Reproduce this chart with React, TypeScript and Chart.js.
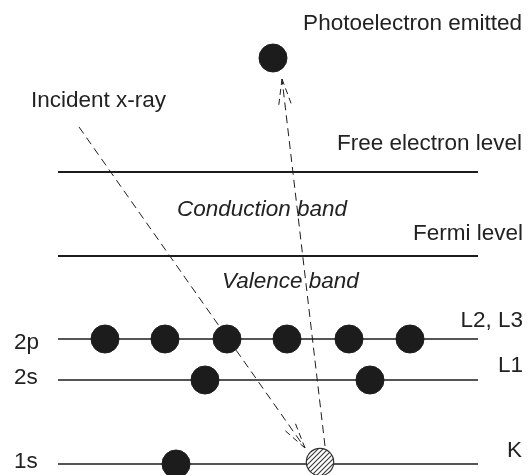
import { useEffect, useRef } from "react";
import { Chart, registerables } from "chart.js";

Chart.register(...registerables);

const W = 528;
const H = 475;

// energy levels (diagram units, y downward)
const levelNames = ["Free electron level", "Fermi level", "2p", "2s", "1s"];
const levelPositions = [172, 256, 339, 380, 464];
const levelSpan = [58, 478];

// electrons on each level (x positions)
const electrons2p = [105, 165, 227, 287, 349, 410];
const electrons2s = [205, 370];
const electrons1s = [176];
const vacancy1s = [320];
const photoelectronX = [273];
const photoelectronY = [58];

// arrows: [x, y] start → end
const incidentPath = [
  [79, 127],
  [305, 448],
];
const emittedPath = [
  [325, 446],
  [282, 79],
];

// texts
const labelTexts = [
  "Photoelectron emitted",
  "Incident x-ray",
  "Free electron level",
  "Conduction band",
  "Fermi level",
  "Valence band",
  "L2, L3",
  "L1",
  "K",
  "2p",
  "2s",
  "1s",
];
const labelX = [522, 31, 522, 177, 523, 222, 523, 523, 522, 14, 14, 14];
const labelY = [30, 107, 150, 216, 240, 288, 327, 372, 457, 349, 384, 468];
const labelAlign = ["right", "left", "right", "left", "right", "left", "right", "right", "right", "left", "left", "left"];
const labelItalic = [false, false, false, true, false, true, false, false, false, false, false, false];

const FONT_FAMILY = "'Liberation Sans', Arial, Helvetica, sans-serif";
const FONT_SIZE = 22.5;
const INK = "#1c1c1c";

function makeHatched(r: number): HTMLCanvasElement {
  const size = Math.ceil(r * 2 + 2);
  const c = document.createElement("canvas");
  c.width = size;
  c.height = size;
  const g = c.getContext("2d")!;
  const cx = size / 2;
  const cy = size / 2;
  g.fillStyle = "#ffffff";
  g.beginPath();
  g.arc(cx, cy, r, 0, Math.PI * 2);
  g.fill();
  g.save();
  g.beginPath();
  g.arc(cx, cy, r, 0, Math.PI * 2);
  g.clip();
  g.strokeStyle = "#333";
  g.lineWidth = 1.1;
  for (let k = -size; k < size * 2; k += 5) {
    g.beginPath();
    g.moveTo(k, size);
    g.lineTo(k + size, 0);
    g.stroke();
  }
  g.restore();
  g.strokeStyle = "#333";
  g.lineWidth = 1.2;
  g.beginPath();
  g.arc(cx, cy, r - 0.3, 0, Math.PI * 2);
  g.stroke();
  return c;
}

const arrowHeads = {
  id: "arrowHeads",
  afterDatasetsDraw(chart: any) {
    const ctx = chart.ctx;
    chart.data.datasets.forEach((ds: any, i: number) => {
      if (!ds.arrow) return;
      const meta = chart.getDatasetMeta(i);
      const pts = meta.data;
      if (pts.length < 2) return;
      const a = pts[pts.length - 2];
      const b = pts[pts.length - 1];
      const ang = Math.atan2(b.y - a.y, b.x - a.x);
      const len = 28;
      const spread = 0.24;
      ctx.save();
      ctx.strokeStyle = INK;
      ctx.lineWidth = 1;
      ctx.setLineDash([6, 4]);
      [ang + Math.PI - spread, ang + Math.PI + spread].forEach((t) => {
        ctx.beginPath();
        ctx.moveTo(b.x, b.y);
        ctx.lineTo(b.x + len * Math.cos(t), b.y + len * Math.sin(t));
        ctx.stroke();
      });
      ctx.restore();
    });
  },
};

const textLabels = {
  id: "textLabels",
  afterDraw(chart: any) {
    const ctx = chart.ctx;
    const xs = chart.scales.x;
    const ys = chart.scales.y;
    ctx.save();
    ctx.fillStyle = "#222";
    ctx.textBaseline = "alphabetic";
    labelTexts.forEach((t, i) => {
      ctx.font = `${labelItalic[i] ? "italic " : ""}${FONT_SIZE}px ${FONT_FAMILY}`;
      ctx.textAlign = labelAlign[i];
      ctx.fillText(t, xs.getPixelForValue(labelX[i]), ys.getPixelForValue(labelY[i]));
    });
    ctx.restore();
  },
};

export default function App() {
  const ref = useRef<HTMLCanvasElement | null>(null);

  useEffect(() => {
    if (!ref.current) return;
    const levelDatasets = levelNames.map((name, i) => ({
      label: name,
      type: "line" as const,
      data: levelSpan.map((x) => ({ x, y: levelPositions[i] })),
      borderColor: INK,
      borderWidth: i < 2 ? 2.2 : 1.6,
      pointRadius: 0,
      showLine: true,
      fill: false,
      clip: false,
      order: 3,
    }));

    const electronDs = (xs: number[], y: number, label: string) => ({
      label,
      type: "scatter" as const,
      data: xs.map((x) => ({ x, y })),
      backgroundColor: INK,
      borderColor: INK,
      borderWidth: 1,
      pointRadius: 14,
      clip: false,
      order: 1,
    });

    const hatched = makeHatched(14);

    const chart = new Chart(ref.current, {
      type: "scatter",
      data: {
        datasets: [
          ...levelDatasets,
          {
            label: "Incident x-ray",
            type: "line",
            data: incidentPath.map(([x, y]) => ({ x, y })),
            borderColor: INK,
            borderWidth: 1,
            borderDash: [8, 5],
            pointRadius: 0,
            showLine: true,
            clip: false,
            order: 2,
            arrow: true,
          } as any,
          {
            label: "Photoelectron path",
            type: "line",
            data: emittedPath.map(([x, y]) => ({ x, y })),
            borderColor: INK,
            borderWidth: 1,
            borderDash: [8, 5],
            pointRadius: 0,
            showLine: true,
            clip: false,
            order: 2,
            arrow: true,
          } as any,
          electronDs(electrons2p, levelPositions[2], "2p electrons"),
          electronDs(electrons2s, levelPositions[3], "2s electrons"),
          electronDs(electrons1s, levelPositions[4], "1s electrons"),
          {
            label: "1s vacancy",
            type: "scatter",
            data: vacancy1s.map((x) => ({ x, y: levelPositions[4] - 2 })),
            pointStyle: hatched,
            pointRadius: 14,
            clip: false,
            order: 0,
          } as any,
          {
            label: "Photoelectron",
            type: "scatter",
            data: photoelectronX.map((x, i) => ({ x, y: photoelectronY[i] })),
            backgroundColor: INK,
            borderColor: INK,
            borderWidth: 1,
            pointRadius: 14,
            clip: false,
            order: 1,
          },
        ],
      },
      options: {
        responsive: false,
        animation: false,
        devicePixelRatio: 1,
        layout: { padding: 0, autoPadding: false },
        events: [],
        scales: {
          x: { type: "linear", min: 0, max: W, display: false },
          y: { type: "linear", min: 0, max: H, reverse: true, display: false },
        },
        plugins: {
          legend: { display: false },
          tooltip: { enabled: false },
          title: { display: false },
        },
      },
      plugins: [arrowHeads, textLabels],
    });
    return () => chart.destroy();
  }, []);

  return (
    <div style={{ position: "fixed", left: 0, top: 0, width: W, height: H, background: "#fff" }}>
      <canvas ref={ref} width={W} height={H} style={{ display: "block", width: W, height: H }} />
    </div>
  );
}
